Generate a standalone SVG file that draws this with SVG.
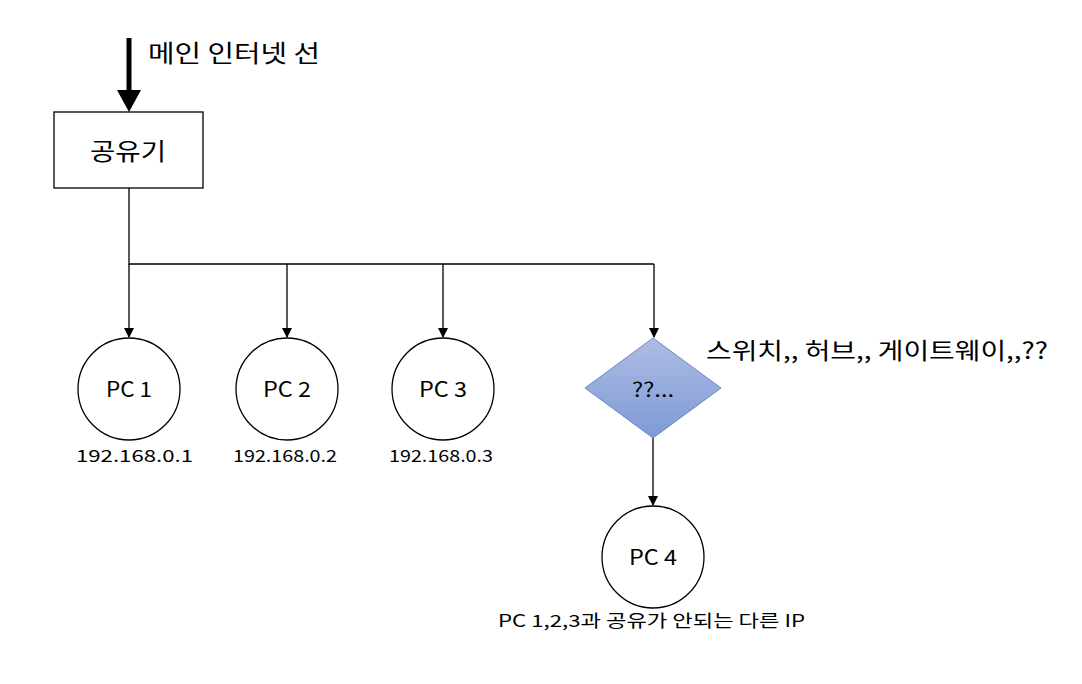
<svg xmlns="http://www.w3.org/2000/svg" width="1082" height="684" viewBox="0 0 1082 684">
<defs>
<marker id="a" markerWidth="10" markerHeight="10" refX="9" refY="5" orient="auto" markerUnits="userSpaceOnUse"><path d="M0,0 L10,5 L0,10 z" fill="#000"/></marker>
<linearGradient id="g" x1="0" y1="0" x2="0" y2="1"><stop offset="0" stop-color="#aebce4"/><stop offset="1" stop-color="#7e9ad6"/></linearGradient>
<style>
text{font-family:"Noto Sans CJK KR","Noto Sans",sans-serif;fill:#000}
.c{fill:#fff;stroke:#000;stroke-width:1.3}
.l{fill:none;stroke:#000;stroke-width:1.3}
</style>
</defs>
<rect width="1082" height="684" fill="#fff"/>
<g id="connectors">
<line x1="129" y1="38" x2="129" y2="92" stroke="#000" stroke-width="5"/>
<path d="M117,90 L141,90 L129,112 z" fill="#000"/>
<polyline class="l" points="129,188 129,264 654,264"/>
<line class="l" x1="129" y1="264" x2="129" y2="337" marker-end="url(#a)"/>
<line class="l" x1="287" y1="264" x2="287" y2="337" marker-end="url(#a)"/>
<line class="l" x1="443" y1="264" x2="443" y2="337" marker-end="url(#a)"/>
<line class="l" x1="654" y1="264" x2="654" y2="337" marker-end="url(#a)"/>
<line class="l" x1="653" y1="438" x2="653" y2="505" marker-end="url(#a)"/>
</g>
<text x="148" y="62" font-size="24" textLength="172" lengthAdjust="spacingAndGlyphs">메인 인터넷 선</text>
<g id="router"><rect class="c" x="54" y="112" width="149" height="76"/><text x="90" y="160" font-size="24" textLength="76" lengthAdjust="spacingAndGlyphs">공유기</text></g>
<g id="pc1"><circle class="c" cx="129" cy="389" r="51"/><text x="106" y="397" font-size="21" textLength="46" lengthAdjust="spacingAndGlyphs">PC 1</text><text x="76" y="462" font-size="17" textLength="117" lengthAdjust="spacingAndGlyphs">192.168.0.1</text></g>
<g id="pc2"><circle class="c" cx="287" cy="389" r="51"/><text x="263" y="397" font-size="21" textLength="48" lengthAdjust="spacingAndGlyphs">PC 2</text><text x="233" y="462" font-size="17" textLength="104" lengthAdjust="spacingAndGlyphs">192.168.0.2</text></g>
<g id="pc3"><circle class="c" cx="443" cy="389" r="51"/><text x="419" y="397" font-size="21" textLength="48" lengthAdjust="spacingAndGlyphs">PC 3</text><text x="389" y="462" font-size="17" textLength="104" lengthAdjust="spacingAndGlyphs">192.168.0.3</text></g>
<g id="unknown"><path d="M653,338 L721,388 L653,438 L585,388 z" fill="url(#g)" stroke="#6d87c4" stroke-width="1"/><text x="632" y="397" font-size="20" textLength="42" lengthAdjust="spacingAndGlyphs">??...</text></g>
<text x="706" y="359" font-size="23" textLength="342" lengthAdjust="spacingAndGlyphs">스위치,, 허브,, 게이트웨이,,??</text>
<g id="pc4"><circle class="c" cx="653" cy="557" r="51"/><text x="629" y="565" font-size="21" textLength="48" lengthAdjust="spacingAndGlyphs">PC 4</text><text x="498" y="627" font-size="17" textLength="307" lengthAdjust="spacingAndGlyphs">PC 1,2,3과 공유가 안되는 다른 IP</text></g>
</svg>
